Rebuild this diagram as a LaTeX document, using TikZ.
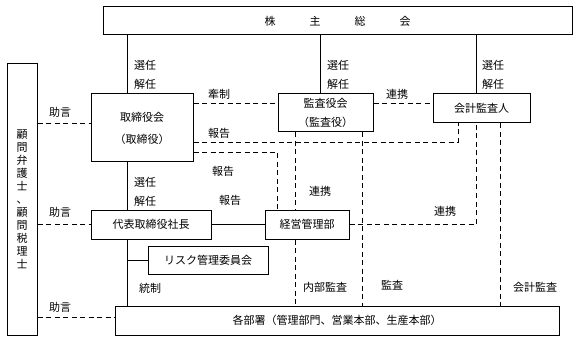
\documentclass[tikz,border=0pt]{standalone}
\usepackage{fontspec}
\setmainfont{Noto Sans CJK JP}
\begin{document}
\begin{tikzpicture}[x=1pt,y=-1pt,
  font=\fontsize{11}{13}\selectfont,
  box/.style={draw, line width=1pt, inner sep=0pt, align=center},
  lbl/.style={inner sep=0pt},
  sline/.style={line width=0.9pt},
  dline/.style={line width=0.9pt, dash pattern=on 5pt off 3.5pt}]
\useasboundingbox[fill=white] (0,0) rectangle (584,342);
% boxes
\node[box, minimum width=469, minimum height=28] (kabu) at (337.5,21)
  {株\hspace{34pt}主\hspace{34pt}総\hspace{34pt}会};
\node[box, minimum width=30, minimum height=271] (komon) at (22,199.5)
  {\fontsize{11}{12.3}\selectfont 顧\\問\\弁\\護\\士\\、\\顧\\問\\税\\理\\士};
\node[box, minimum width=102, minimum height=68] (tori) at (142,128)
  {取締役会\\[9pt]（取締役）};
\node[box, minimum width=95, minimum height=38] (kansa) at (325.5,113)
  {監査役会\\[6pt]（監査役）};
\node[box, minimum width=97, minimum height=29] (kaikei) at (481.5,108.5) {会計監査人};
\node[box, minimum width=120, minimum height=29] (daihyo) at (151,224.5) {代表取締役社長};
\node[box, minimum width=84, minimum height=29] (keiei) at (307,224.5) {経営管理部};
\node[box, minimum width=120, minimum height=28] (risk) at (208,260) {リスク管理委員会};
\node[box, minimum width=444, minimum height=29] (kakubu) at (337,320.5)
  {各部署（管理部門、営業本部、生産本部）};
% solid connectors
\draw[sline] (kabu.south -| 127,0) -- (tori.north -| 127,0);
\draw[sline] (kabu.south -| 320,0) -- (kansa.north -| 320,0);
\draw[sline] (kabu.south -| 476,0) -- (kaikei.north -| 476,0);
\draw[sline] (tori.south -| 127,0) -- (daihyo.north -| 127,0);
\draw[sline] (daihyo.east) -- (keiei.west);
\draw[sline] (daihyo.south -| 127,0) -- (kakubu.north -| 127,0);
\coordinate (rj) at (127,260);
\draw[sline] (rj) -- (risk.west);
% dashed connectors
\draw[dline] (komon.east |- 0,123) -- (tori.west |- 0,123);
\draw[dline] (komon.east |- daihyo.west) -- (daihyo.west);
\draw[dline] (komon.east |- 0,317) -- (kakubu.west |- 0,317);
\draw[dline] (tori.east |- 0,103) -- (kansa.west |- 0,103);
\draw[dline] (kansa.east |- 0,103) -- (kaikei.west |- 0,103);
\draw[dline] (tori.east |- 0,142) -- (458,142) -- (kaikei.south -| 458,0);
\draw[dline] (tori.east |- 0,152) -- (277,152) -- (keiei.north -| 277,0);
\draw[dline] (kansa.south -| 295,0) -- (keiei.north -| 295,0);
\draw[dline] (keiei.south -| 295,0) -- (kakubu.north -| 295,0);
\draw[dline] (kansa.south -| 362,0) -- (kakubu.north -| 362,0);
\draw[dline] (keiei.east) -- (keiei.east -| 476,0) -- (kaikei.south -| 476,0);
\draw[dline] (kaikei.south -| 500,0) -- (kakubu.north -| 500,0);
% labels
\node[lbl] (l1) at (145,65) {選任};
\node[lbl] (l2) at (145,84) {解任};
\node[lbl] (l3) at (338,65) {選任};
\node[lbl] (l4) at (338,84) {解任};
\node[lbl] (l5) at (493,65) {選任};
\node[lbl] (l6) at (493,84) {解任};
\node[lbl] (l7) at (219,94) {牽制};
\node[lbl] (l8) at (219,133) {報告};
\node[lbl] (l9) at (397,94) {連携};
\node[lbl] (l10) at (223,171) {報告};
\node[lbl] (l11) at (230,200) {報告};
\node[lbl] (l12) at (145,182) {選任};
\node[lbl] (l13) at (145,201) {解任};
\node[lbl] (l14) at (320,191) {連携};
\node[lbl] (l15) at (445,211) {連携};
\node[lbl] (l16) at (325,287) {内部監査};
\node[lbl] (l17) at (392,285) {監査};
\node[lbl] (l18) at (535,287) {会計監査};
\node[lbl] (l19) at (150,288) {統制};
\node[lbl] (l20) at (60,112) {助言};
\node[lbl] (l21) at (60,212) {助言};
\node[lbl] (l22) at (60,307) {助言};
\end{tikzpicture}
\end{document}
